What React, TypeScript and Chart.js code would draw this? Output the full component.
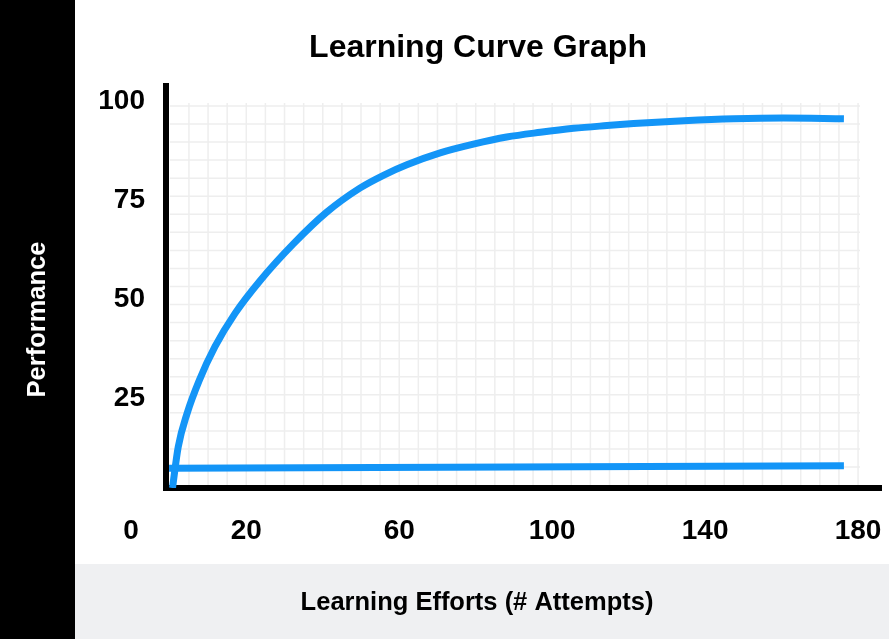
import { useEffect, useRef } from 'react';
import { Chart, registerables } from 'chart.js';

Chart.register(...registerables);

// ---- text ----
const TITLE = 'Learning Curve Graph';
const X_LABEL = 'Learning Efforts (# Attempts)';
const Y_LABEL = 'Performance';
const ORIGIN_LABEL = '0';

// ---- ticks ----
const X_TICKS = [20, 60, 100, 140, 180];
const Y_TICKS = [25, 50, 75, 100];

// ---- series: learning curve ----
const CURVE_X = [0.7, 2.2, 4.5, 7.7, 11.8, 17.1, 23.6, 32.3, 41, 49.7, 56, 62, 70.7, 79.4, 88.1, 96.9, 105.6, 114.3, 121.3, 134.4, 147.5, 160.5, 176.3];
const CURVE_Y = [2.2, 12.6, 21, 29.4, 37.9, 46.4, 54.6, 63.9, 71.9, 78, 81.3, 83.9, 86.9, 89.1, 90.9, 92.1, 93.1, 93.8, 94.3, 95, 95.5, 95.7, 95.5];

// ---- series: baseline ----
const FLAT_X = [-0.2, 90, 176.3];
const FLAT_Y = [7.2, 7.5, 7.8];

// ---- style / layout ----
const FONT = "'Liberation Sans', Arial, Helvetica, sans-serif";
const BLUE = '#1395f7';
const W = 889;
const H = 639;
const SIDEBAR_W = 75;
const BAND_TOP = 564;
const BAND_COLOR = '#eff0f2';
const GRID_COLOR = '#eeeeee';
const GRID_X_STEP = 5;
const GRID_X_END = 180.5;
const GRID_Y_START = 7.5;
const GRID_Y_STEP = 4.563;
const GRID_Y_END = 99.5;
const TICK_SIZE = 28;
const X_TICK_GAP = 26;

const framePlugin = {
  id: 'frame',
  beforeDraw(chart: any) {
    const { ctx, width, height } = chart;
    ctx.save();
    ctx.fillStyle = '#ffffff';
    ctx.fillRect(0, 0, width, height);
    ctx.fillStyle = BAND_COLOR;
    ctx.fillRect(SIDEBAR_W, BAND_TOP, width - SIDEBAR_W, height - BAND_TOP);
    ctx.fillStyle = '#000000';
    ctx.fillRect(0, 0, SIDEBAR_W, height);

    // x axis label in the grey band
    ctx.fillStyle = '#000000';
    ctx.font = `bold 25.5px ${FONT}`;
    ctx.textAlign = 'center';
    ctx.textBaseline = 'middle';
    ctx.fillText(X_LABEL, 477, (BAND_TOP + height) / 2 + 1);

    // y axis label in the black sidebar
    ctx.translate(SIDEBAR_W / 2, height / 2);
    ctx.rotate(-Math.PI / 2);
    ctx.fillStyle = '#ffffff';
    ctx.font = `bold 25.5px ${FONT}`;
    ctx.fillText(Y_LABEL, 0, 0);
    ctx.restore();
  },
  beforeDatasetsDraw(chart: any) {
    const { ctx, chartArea } = chart;
    const xs = chart.scales.x;
    const ys = chart.scales.y;
    const left = xs.getPixelForValue(0);
    const right = xs.getPixelForValue(GRID_X_END);
    const top = ys.getPixelForValue(GRID_Y_END);
    const bottom = chartArea.bottom - 3;
    ctx.save();
    ctx.strokeStyle = GRID_COLOR;
    ctx.lineWidth = 1.5;
    ctx.beginPath();
    for (let v = GRID_X_STEP; v < GRID_X_END; v += GRID_X_STEP) {
      const px = xs.getPixelForValue(v);
      ctx.moveTo(px, top);
      ctx.lineTo(px, bottom);
    }
    for (let v = GRID_Y_START; v < GRID_Y_END; v += GRID_Y_STEP) {
      const py = ys.getPixelForValue(v);
      ctx.moveTo(left, py);
      ctx.lineTo(right, py);
    }
    ctx.stroke();
    ctx.restore();
  },
  afterDraw(chart: any) {
    const { ctx, chartArea } = chart;
    const xs = chart.scales.x;
    ctx.save();
    ctx.fillStyle = '#000000';
    ctx.font = `bold ${TICK_SIZE}px ${FONT}`;
    ctx.textAlign = 'center';
    ctx.textBaseline = 'middle';
    ctx.fillText(ORIGIN_LABEL, chartArea.left - 35, xs.top + X_TICK_GAP + (TICK_SIZE * 1.2) / 2);
    ctx.restore();
  },
};

export default function App() {
  const canvasRef = useRef<HTMLCanvasElement | null>(null);

  useEffect(() => {
    if (!canvasRef.current) return;
    const tickFont = { family: FONT, size: TICK_SIZE, weight: 'bold' as const };
    const chart = new Chart(canvasRef.current, {
      type: 'line',
      data: {
        datasets: [
          {
            label: 'Learning curve',
            data: CURVE_X.map((x, i) => ({ x, y: CURVE_Y[i] })),
            borderColor: BLUE,
            backgroundColor: BLUE,
            borderWidth: 7,
            pointRadius: 0,
            cubicInterpolationMode: 'monotone',
            borderCapStyle: 'butt',
            fill: false,
          },
          {
            label: 'Baseline',
            data: FLAT_X.map((x, i) => ({ x, y: FLAT_Y[i] })),
            borderColor: BLUE,
            backgroundColor: BLUE,
            borderWidth: 7,
            pointRadius: 0,
            tension: 0,
            borderCapStyle: 'butt',
            fill: false,
          },
        ],
      },
      options: {
        responsive: false,
        animation: false,
        devicePixelRatio: 1,
        layout: { padding: { left: SIDEBAR_W, right: 8, top: 0, bottom: 0 } },
        plugins: {
          legend: { display: false },
          tooltip: { enabled: false },
          title: {
            display: true,
            text: TITLE,
            color: '#000000',
            font: { family: FONT, size: 32, weight: 'bold', lineHeight: 1.2 },
            padding: { top: 29, bottom: 18.6 },
          },
        },
        scales: {
          x: {
            type: 'linear',
            min: -1,
            max: 186,
            z: 1,
            afterBuildTicks: (s: any) => {
              s.ticks = X_TICKS.map((v) => ({ value: v }));
            },
            afterFit: (s: any) => {
              s.height = 151;
            },
            grid: { display: false, drawTicks: true, tickLength: X_TICK_GAP },
            border: { display: true, color: '#000000', width: 6 },
            ticks: { color: '#000000', font: tickFont, padding: 0, maxRotation: 0, autoSkip: false },
          },
          y: {
            type: 'linear',
            min: 2.2,
            max: 103.8,
            z: 1,
            afterBuildTicks: (s: any) => {
              s.ticks = Y_TICKS.map((v) => ({ value: v }));
            },
            afterFit: (s: any) => {
              s.width = 91;
            },
            grid: { display: false, drawTicks: true, tickLength: 21 },
            border: { display: true, color: '#000000', width: 6 },
            ticks: { color: '#000000', font: tickFont, padding: 0, autoSkip: false },
          },
        },
      },
      plugins: [framePlugin],
    } as any);
    return () => chart.destroy();
  }, []);

  return (
    <div style={{ position: 'absolute', left: 0, top: 0, width: W, height: H, background: '#fff' }}>
      <canvas ref={canvasRef} width={W} height={H} style={{ display: 'block', width: W, height: H }} />
    </div>
  );
}
